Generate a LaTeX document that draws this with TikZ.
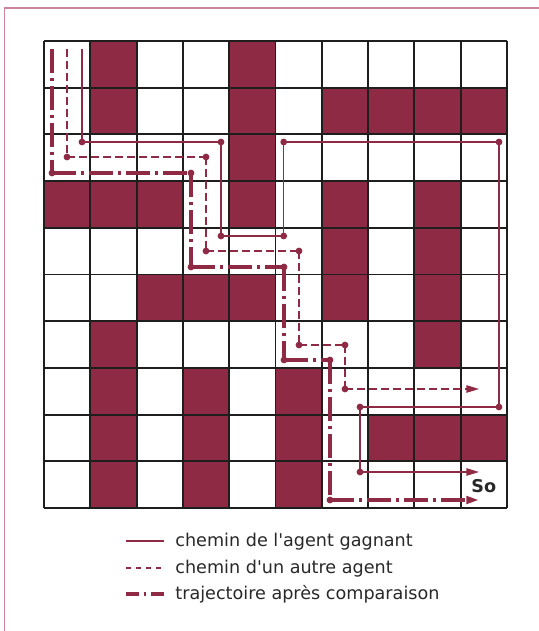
\documentclass[tikz,border=0pt]{standalone}
\usepackage{fontspec}
\setmainfont{DejaVu Sans}[Ligatures=TeXOff]
\usetikzlibrary{arrows.meta}
\definecolor{maroon}{RGB}{143,42,69}
\definecolor{framec}{RGB}{205,130,160}
\definecolor{gridc}{RGB}{30,30,30}
\definecolor{txt}{RGB}{40,40,40}
\tikzset{
  cellfill/.style={fill=maroon},
  gridline/.style={draw=gridc,line width=0.95pt},
  winpath/.style={draw=maroon,line width=0.65pt,line join=miter},
  otherpath/.style={draw=maroon,line width=0.65pt,dash pattern=on 3.8pt off 2.2pt},
  trajpath/.style={draw=maroon,line width=1.75pt,dash pattern=on 12pt off 2.5pt on 1.3pt off 2.7pt},
  tip/.style={-{Triangle[length=6.3pt,width=3.7pt]}},
  legtext/.style={anchor=base west,inner sep=0pt,text=txt,font=\fontsize{8.8pt}{10pt}\selectfont},
}
\begin{document}
\begin{tikzpicture}[x=0.5pt,y=-0.5pt]
\useasboundingbox (0,0) rectangle (539,631);
% frame (left and top edges)
\draw[framec,line width=0.7pt] (4.5,631) -- (4.5,8) -- (539,8);
% filled cells
\foreach \r/\c in {0/1,0/4,1/1,1/4,1/6,1/7,1/8,1/9,2/4,3/0,3/1,3/2,3/4,3/6,3/8,4/6,4/8,5/2,5/3,5/4,5/6,5/8,6/1,6/8,7/1,7/3,7/5,8/1,8/3,8/5,8/7,8/8,8/9,9/1,9/3,9/5}
  \fill[cellfill] ({44+\c*46.3},{41+\r*46.7}) rectangle ({44+(\c+1)*46.3},{41+(\r+1)*46.7});
% grid
\foreach \i in {0,...,10} {
  \draw[gridline] ({44+\i*46.3},41) -- ({44+\i*46.3},508);
  \draw[gridline] (44,{41+\i*46.7}) -- (507,{41+\i*46.7});
}
% winning agent path (solid)
\coordinate (w0) at (82,49);
\coordinate (w1) at (82,142);
\coordinate (w2) at (221,142);
\coordinate (w3) at (221,236);
\coordinate (w4) at (283.7,236);
\coordinate (w5) at (283.7,142);
\coordinate (w6) at (499,142);
\coordinate (w7) at (499,407);
\coordinate (w8) at (360,407);
\coordinate (w9) at (360,472);
\coordinate (w10) at (479,472);
\draw[winpath] (w0) -- (w1) -- (w2) -- (w3) -- (w4) -- (w5) -- (w6) -- (w7) -- (w8) -- (w9);
\draw[winpath,tip] (w9) -- (w10);
\foreach \p in {w1,w2,w3,w4,w5,w6,w7,w8,w9} \fill[maroon] (\p) circle (1.7pt);
% other agent path (dashed)
\coordinate (o0) at (67,49);
\coordinate (o1) at (67,157);
\coordinate (o2) at (206,157);
\coordinate (o3) at (206,251);
\coordinate (o4) at (299,251);
\coordinate (o5) at (299,345);
\coordinate (o6) at (345,345);
\coordinate (o7) at (345,389);
\coordinate (o8) at (479,389);
\draw[otherpath] (o0) -- (o1);
\draw[otherpath] (o1) -- (o2);
\draw[otherpath] (o2) -- (o3);
\draw[otherpath] (o3) -- (o4);
\draw[otherpath] (o4) -- (o5);
\draw[otherpath] (o5) -- (o6);
\draw[otherpath] (o6) -- (o7);
\draw[otherpath,tip] (o7) -- (o8);
\foreach \p in {o1,o2,o3,o4,o5,o6,o7} \fill[maroon] (\p) circle (1.7pt);
% trajectory after comparison (dash-dot)
\coordinate (t0) at (52,49);
\coordinate (t1) at (52,173);
\coordinate (t2) at (191,173);
\coordinate (t3) at (191,267);
\coordinate (t4) at (284,267);
\coordinate (t5) at (284,360);
\coordinate (t6) at (330,360);
\coordinate (t7) at (330,500);
\coordinate (t8) at (479,500);
\draw[trajpath] (t0) -- (t1);
\draw[trajpath] (t1) -- (t2);
\draw[trajpath] (t2) -- (t3);
\draw[trajpath] (t3) -- (t4);
\draw[trajpath] (t4) -- (t5);
\draw[trajpath] (t5) -- (t6);
\draw[trajpath] (t6) -- (t7);
\draw[trajpath,tip] (t7) -- (t8);
\foreach \p in {t1,t2,t3,t4,t5,t6,t7} \fill[maroon] (\p) circle (1.7pt);
% goal label
\node[anchor=base west,inner sep=0pt,text=txt,font=\fontsize{8.8pt}{10pt}\selectfont\bfseries] (so) at (471,492) {So};
% legend
\coordinate (l1a) at (126,541);
\coordinate (l1b) at (164,541);
\coordinate (l2a) at (126,568);
\coordinate (l2b) at (164,568);
\coordinate (l3a) at (126,594);
\coordinate (l3b) at (164,594);
\draw[draw=maroon,line width=0.6pt] (l1a) -- (l1b);
\draw[draw=maroon,line width=0.6pt,dash pattern=on 2.6pt off 2.4pt] (l2a) -- (l2b);
\draw[draw=maroon,line width=1.75pt,dash pattern=on 6.5pt off 2.5pt on 1pt off 2.5pt] (l3a) -- (l3b);
\node[legtext] (lt1) at (175,546.5) {chemin de l'agent gagnant};
\node[legtext] (lt2) at (175,573.5) {chemin d'un autre agent};
\node[legtext] (lt3) at (175,599.5) {trajectoire après comparaison};
\end{tikzpicture}
\end{document}
